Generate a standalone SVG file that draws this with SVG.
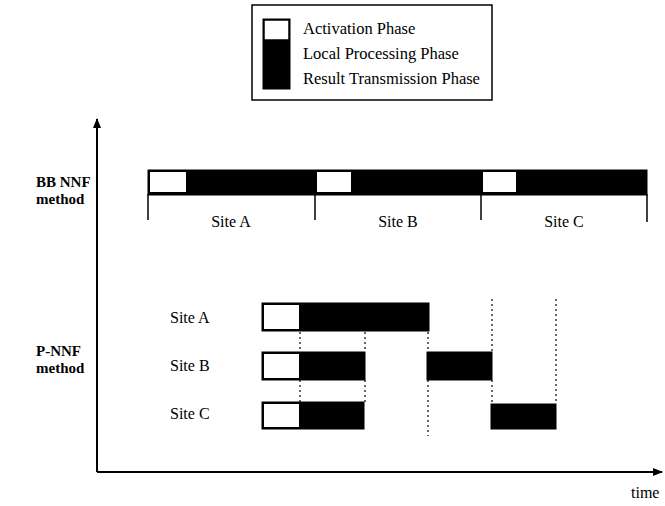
<svg xmlns="http://www.w3.org/2000/svg" width="665" height="506" viewBox="0 0 665 506">
<defs>
<marker id="arr" markerWidth="10" markerHeight="8" refX="9" refY="4" orient="auto" markerUnits="userSpaceOnUse">
<path d="M0,0 L10,4 L0,8 Z" fill="#000"/>
</marker>
<style>
text{font-family:"Liberation Serif","Times New Roman",serif;fill:#000}
.t{font-size:16px}
.l{font-size:16.5px}
.b{font-size:15px;font-weight:bold}
.w{fill:#fff;stroke:#000;stroke-width:2}
.k{fill:#000;stroke:#000;stroke-width:1}
.ax{stroke:#000;stroke-width:2;fill:none}
.tick{stroke:#000;stroke-width:1.5}
.dot{stroke:#000;stroke-width:1.2;stroke-dasharray:2 3;fill:none}
</style>
</defs>
<rect width="665" height="506" fill="#fff"/>

<g id="legend">
<rect x="252" y="5" width="240" height="95" fill="#fff" stroke="#000" stroke-width="1.5"/>
<rect x="263" y="19" width="27" height="70" class="k"/>
<rect x="264" y="20" width="25" height="20" fill="#fff" stroke="#000" stroke-width="1.5"/>
<text class="l" x="303" y="34">Activation Phase</text>
<text class="l" x="303" y="59">Local Processing Phase</text>
<text class="l" x="303" y="84">Result Transmission Phase</text>
</g>

<g id="axes">
<line class="ax" x1="97" y1="472" x2="97" y2="119" marker-end="url(#arr)"/>
<line class="ax" x1="97" y1="472" x2="662" y2="472" marker-end="url(#arr)"/>
<text class="t" x="631" y="498">time</text>
</g>

<g id="bb-method">
<text class="b" x="36" y="187">BB NNF</text>
<text class="b" x="36" y="204">method</text>
<rect x="148" y="170" width="499" height="25" class="k"/>
<rect x="149" y="171" width="38" height="22" class="w"/>
<rect x="316" y="171" width="36" height="22" class="w"/>
<rect x="482" y="171" width="35" height="22" class="w"/>
<line class="tick" x1="148" y1="194" x2="148" y2="220"/>
<line class="tick" x1="315" y1="194" x2="315" y2="220"/>
<line class="tick" x1="481" y1="194" x2="481" y2="220"/>
<line class="tick" x1="647" y1="194" x2="647" y2="222"/>
<text class="t" x="231" y="227" text-anchor="middle">Site A</text>
<text class="t" x="398" y="227" text-anchor="middle">Site B</text>
<text class="t" x="564" y="227" text-anchor="middle">Site C</text>
</g>

<g id="p-method">
<text class="b" x="36" y="356">P-NNF</text>
<text class="b" x="36" y="373">method</text>
<text class="t" x="170" y="323">Site A</text>
<text class="t" x="170" y="371">Site B</text>
<text class="t" x="170" y="419">Site C</text>
</g>

<g id="siteA">
<rect x="262" y="303" width="167" height="28" class="k"/>
<rect x="263" y="304" width="37" height="26" class="w"/>
</g>
<g id="siteB">
<rect x="262" y="352" width="103" height="28" class="k"/>
<rect x="263" y="353" width="37" height="26" class="w"/>
<rect x="427" y="352" width="65" height="28" class="k"/>
</g>
<g id="siteC">
<rect x="262" y="402" width="102" height="27" class="k"/>
<rect x="263" y="403" width="37" height="25" class="w"/>
<rect x="491" y="404" width="65" height="25" class="k"/>
</g>

<g id="connectors">
<path class="dot" d="M300,332 V352 M300,380 V402"/>
<path class="dot" d="M365,332 V352 M365,380 V402"/>
<path class="dot" d="M428,332 V352 M428,380 V436"/>
<path class="dot" d="M492,299 V352 M492,380 V404"/>
<path class="dot" d="M556,299 V404"/>
</g>
</svg>
